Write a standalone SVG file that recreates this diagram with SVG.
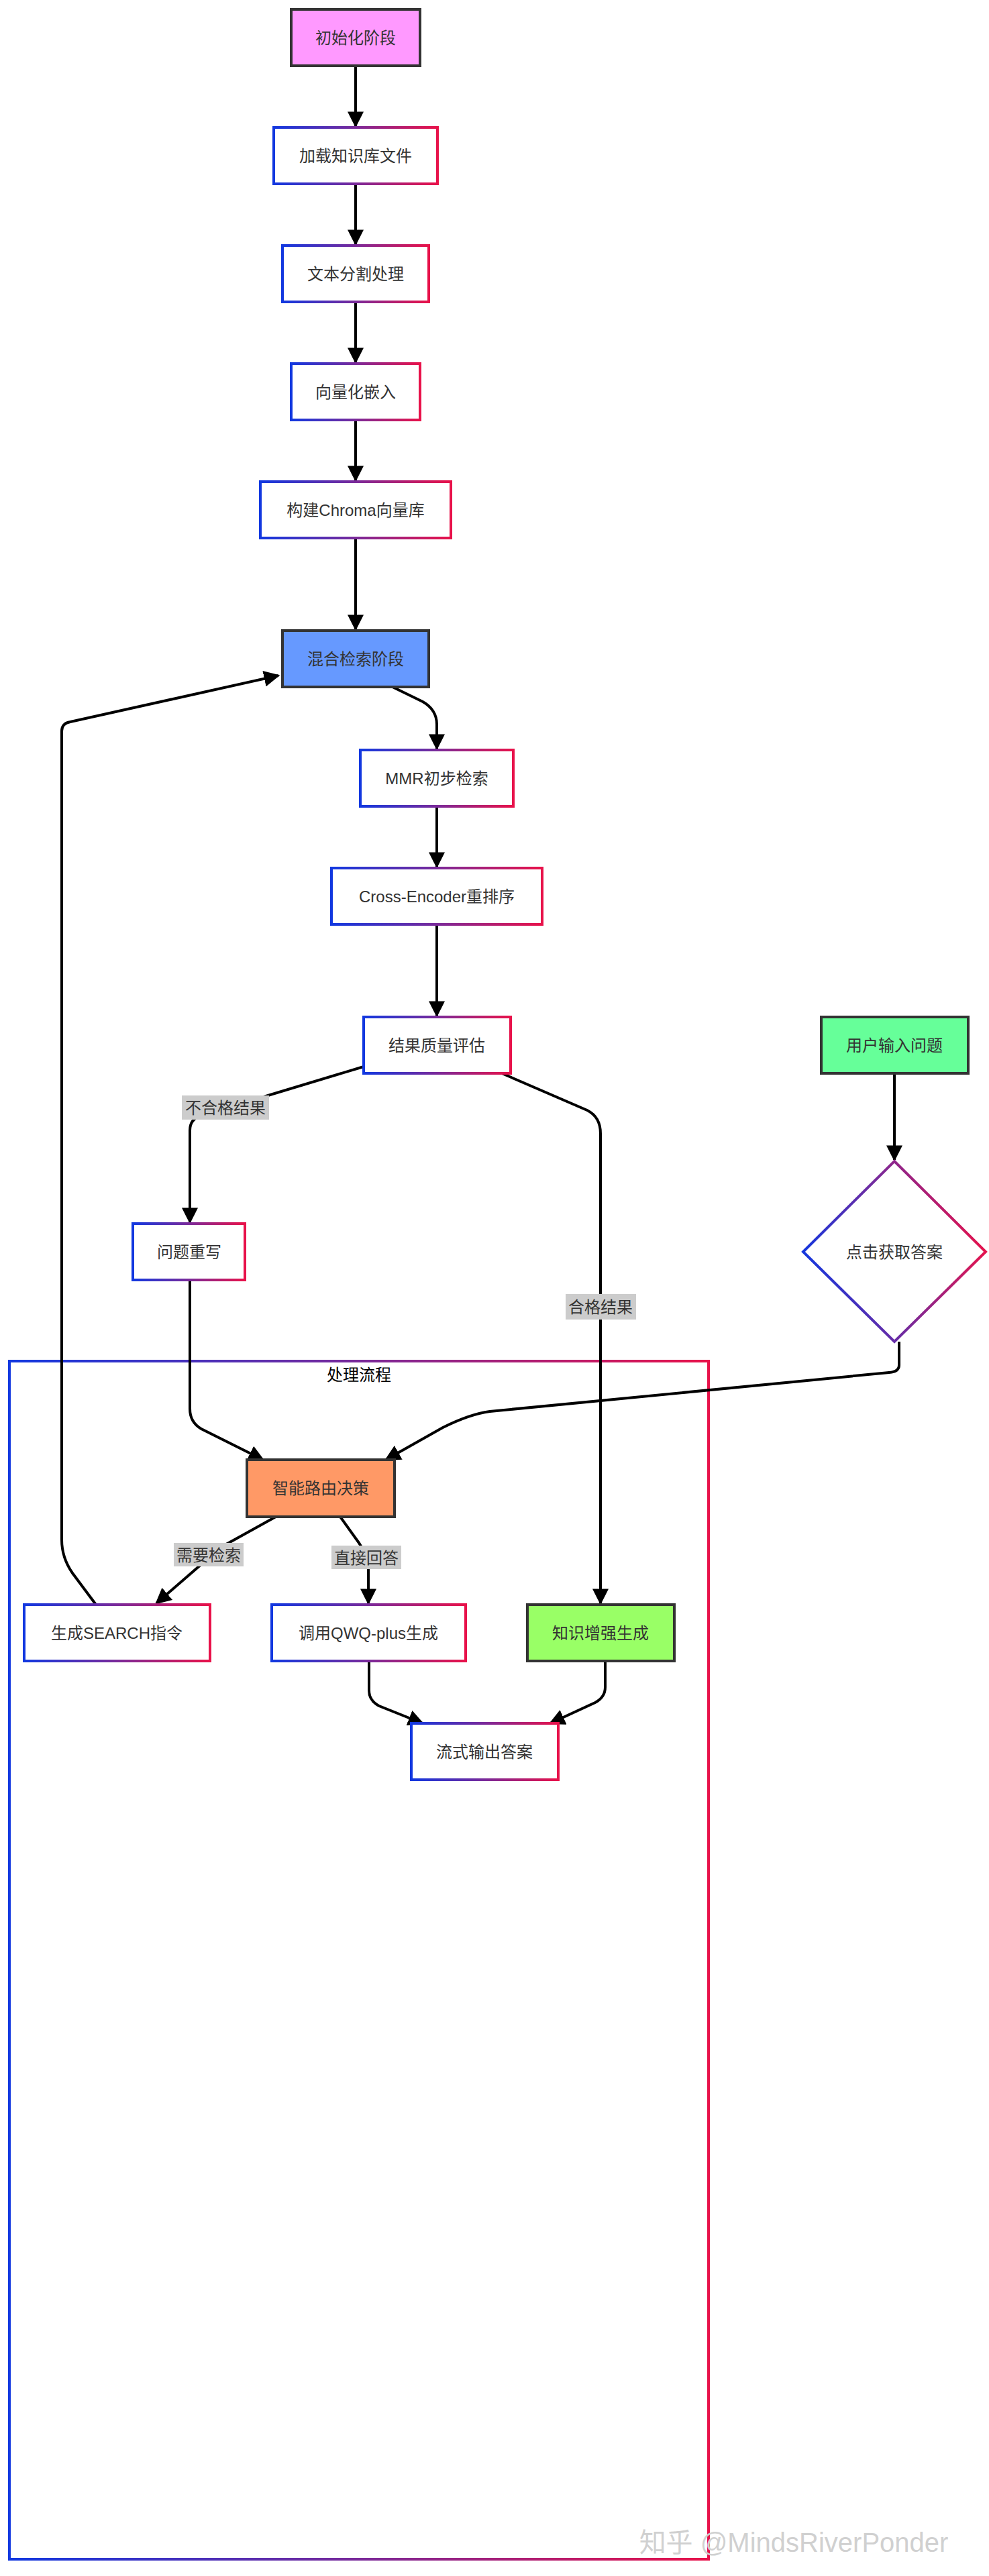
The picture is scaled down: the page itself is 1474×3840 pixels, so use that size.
<svg xmlns="http://www.w3.org/2000/svg" width="1474" height="3840" viewBox="0 0 1474 3840">
<defs>
<linearGradient id="g" x1="0" y1="0" x2="1" y2="0"><stop offset="0" stop-color="#1238e0"/><stop offset="0.5" stop-color="#7a2a9a"/><stop offset="1" stop-color="#e8124a"/></linearGradient>
<linearGradient id="gd" x1="0" y1="0.6" x2="1" y2="0.4"><stop offset="0" stop-color="#1238e0"/><stop offset="0.5" stop-color="#7a2a9a"/><stop offset="1" stop-color="#e8124a"/></linearGradient>
<marker id="ah" viewBox="0 0 10 10" refX="9" refY="5" markerWidth="24" markerHeight="24" orient="auto" markerUnits="userSpaceOnUse"><path d="M0 0L10 5L0 10z" fill="#000"/></marker>
</defs>
<style>
text{font-family:"Liberation Sans","Noto Sans CJK SC",sans-serif;font-size:24px;fill:#333;text-anchor:middle;dominant-baseline:central}
.n{fill:#fff;stroke:url(#g);stroke-width:4}
.s{stroke:#333;stroke-width:4}
.e{fill:none;stroke:#000;stroke-width:4;marker-end:url(#ah)}
.lb{fill:#cccccc}
</style>
<rect x="0" y="0" width="1474" height="3840" fill="#fff"/>
<g id="cluster"><rect x="14" y="2029" width="1042" height="1786" fill="none" stroke="url(#g)" stroke-width="4"/><text x="535" y="2049" style="fill:#000">处理流程</text></g>
<g id="edges">
<path class="e" d="M530 98V188"/>
<path class="e" d="M530 274V364"/>
<path class="e" d="M530 450V540"/>
<path class="e" d="M530 626V716"/>
<path class="e" d="M530 802V938"/>
<path class="e" d="M585 1024L630 1046Q651 1058 651 1080V1116"/>
<path class="e" d="M651 1202V1292"/>
<path class="e" d="M651 1378V1514"/>
<path class="e" d="M542 1590L300 1663Q283 1668 283 1685V1822"/>
<path class="e" d="M748 1600L875 1655Q895 1665 895 1690V2390"/>
<path class="e" d="M1333 1600V1729"/>
<path class="e" d="M283 1908V2100Q283 2120 300 2130L392 2176"/>
<path class="e" d="M1340 2000V2035Q1340 2045 1325 2046L730 2104Q700 2108 660 2128L575 2176"/>
<path class="e" d="M411 2261L330 2306L233 2390"/>
<path class="e" d="M507 2261L535 2300Q549 2320 549 2340V2390"/>
<path class="e" d="M550 2476V2520Q550 2535 565 2543L630 2569"/>
<path class="e" d="M902 2476V2515Q902 2530 887 2538L820 2569"/>
<path class="e" d="M143 2392L108 2345Q92 2322 92 2295V1090Q92 1078 105 1076L415 1007"/>
</g>
<g id="edge-labels">
<rect class="lb" x="271" y="1633" width="130" height="36"/><text x="336" y="1651">不合格结果</text>
<rect class="lb" x="843" y="1929" width="105" height="38"/><text x="895" y="1948">合格结果</text>
<rect class="lb" x="259" y="2300" width="104" height="35"/><text x="311" y="2318">需要检索</text>
<rect class="lb" x="494" y="2304" width="104" height="35"/><text x="546" y="2322">直接回答</text>
</g>
<g id="init"><rect x="434" y="14" width="192" height="84" fill="#ff99ff" class="s"/><text x="530" y="56">初始化阶段</text></g>
<g id="load"><rect class="n" x="408" y="190" width="244" height="84"/><text x="530" y="232">加载知识库文件</text></g>
<g id="split"><rect class="n" x="421" y="366" width="218" height="84"/><text x="530" y="408">文本分割处理</text></g>
<g id="embed"><rect class="n" x="434" y="542" width="192" height="84"/><text x="530" y="584">向量化嵌入</text></g>
<g id="chroma"><rect class="n" x="388" y="718" width="284" height="84"/><text x="530" y="760">构建Chroma向量库</text></g>
<g id="hybrid"><rect x="421" y="940" width="218" height="84" fill="#6699ff" class="s"/><text x="530" y="982">混合检索阶段</text></g>
<g id="mmr"><rect class="n" x="537" y="1118" width="228" height="84"/><text x="651" y="1160">MMR初步检索</text></g>
<g id="rerank"><rect class="n" x="494" y="1294" width="314" height="84"/><text x="651" y="1336">Cross-Encoder重排序</text></g>
<g id="eval"><rect class="n" x="542" y="1516" width="219" height="84"/><text x="651" y="1558">结果质量评估</text></g>
<g id="user"><rect x="1224" y="1516" width="219" height="84" fill="#66ff99" class="s"/><text x="1333" y="1558">用户输入问题</text></g>
<g id="click"><path d="M1333 1731L1469 1866L1333 2000L1197 1866Z" fill="#fff" stroke="url(#gd)" stroke-width="4"/><text x="1333" y="1866">点击获取答案</text></g>
<g id="rewrite"><rect class="n" x="198" y="1824" width="167" height="84"/><text x="282" y="1866">问题重写</text></g>
<g id="router"><rect x="368" y="2176" width="220" height="85" fill="#ff9966" class="s"/><text x="478" y="2218">智能路由决策</text></g>
<g id="search"><rect class="n" x="36" y="2392" width="277" height="84"/><text x="174" y="2434">生成SEARCH指令</text></g>
<g id="qwq"><rect class="n" x="405" y="2392" width="289" height="84"/><text x="549" y="2434">调用QWQ-plus生成</text></g>
<g id="rag"><rect x="786" y="2392" width="219" height="84" fill="#99ff66" class="s"/><text x="895" y="2434">知识增强生成</text></g>
<g id="stream"><rect class="n" x="613" y="2569" width="219" height="84"/><text x="722" y="2611">流式输出答案</text></g>
<text x="1183" y="3790" style="font-size:40px;fill:#d0d0d0">知乎 @MindsRiverPonder</text>
</svg>
